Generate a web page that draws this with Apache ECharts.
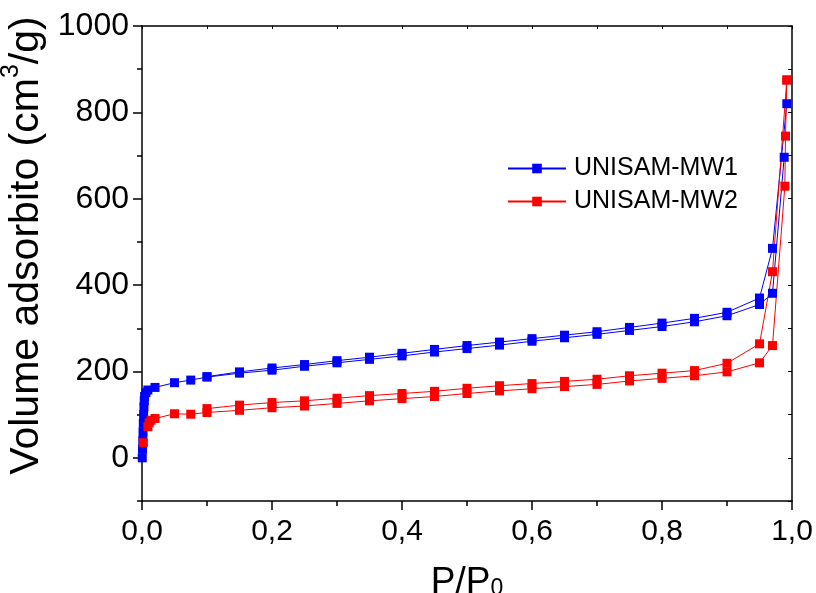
<!DOCTYPE html>
<html>
<head>
<meta charset="utf-8">
<script src="https://cdn.jsdelivr.net/npm/echarts@6/dist/echarts.min.js"></script>
<style>
  html, body { margin: 0; padding: 0; background: #fff; }
  #chart { width: 816px; height: 593px; }
</style>
</head>
<body>
<div id="chart"></div>
<script>
// Nitrogen isotherms: adsorption and desorption branches for two samples
const mw1AdsP = [0.0004, 0.0008, 0.0012, 0.0016, 0.002, 0.0025, 0.003, 0.0035, 0.004, 0.006, 0.009, 0.02, 0.05, 0.075, 0.1, 0.15, 0.2, 0.25, 0.3, 0.35, 0.4, 0.45, 0.5, 0.55, 0.6, 0.65, 0.7, 0.75, 0.8, 0.85, 0.9, 0.95, 0.97, 0.988];
const mw1AdsV = [0, 20, 40, 60, 80, 100, 118, 132, 142, 151, 157, 163, 174, 180, 187, 196, 203, 212, 220, 228, 236, 245, 253, 261, 270, 278, 286, 295, 304, 315, 329, 355, 381, 696];
const mw1DesP = [0.992, 0.97, 0.95, 0.9, 0.85, 0.8, 0.75, 0.7, 0.65, 0.6, 0.55, 0.5, 0.45, 0.4, 0.35, 0.3, 0.25, 0.2, 0.15, 0.1];
const mw1DesV = [820, 485, 370, 337, 323, 312, 302, 292, 284, 276, 268, 260, 251, 242, 233, 225, 216, 208, 199, 188];

const mw2AdsP = [0.002, 0.009, 0.011, 0.014, 0.02, 0.05, 0.075, 0.1, 0.15, 0.2, 0.25, 0.3, 0.35, 0.4, 0.45, 0.5, 0.55, 0.6, 0.65, 0.7, 0.75, 0.8, 0.85, 0.9, 0.95, 0.97, 0.989, 0.99, 0.992];
const mw2AdsV = [35, 72, 81, 87, 91, 102, 101, 105, 110, 116, 120, 126, 132, 137, 142, 149, 155, 160, 165, 170, 178, 184, 190, 199, 220, 260, 629, 745, 875];
const mw2DesP = [0.992, 0.97, 0.95, 0.9, 0.85, 0.8, 0.75, 0.7, 0.65, 0.6, 0.55, 0.5, 0.45, 0.4, 0.35, 0.3, 0.25, 0.2, 0.15, 0.1];
const mw2DesV = [875, 431, 264, 219, 202, 196, 190, 182, 177, 172, 167, 161, 154, 149, 144, 138, 132, 128, 122, 114];

const seriesNames = ['UNISAM-MW1', 'UNISAM-MW2'];
const xTicks = [0, 0.2, 0.4, 0.6, 0.8, 1.0];
const yTicks = [0, 200, 400, 600, 800, 1000];
const yMinorTicks = [-100, 100, 300, 500, 700, 900];

const FONT = '"Liberation Sans", Arial, sans-serif';

function pairs(xs, ys) { return xs.map((x, i) => [x, ys[i]]); }

function lineSeries(name, color, xs, ys) {
  return {
    name: name,
    type: 'line',
    data: pairs(xs, ys),
    symbol: 'rect',
    symbolSize: 9,
    showAllSymbol: true,
    clip: false,
    lineStyle: { color: color, width: 1 },
    itemStyle: { color: color },
    emphasis: { disabled: true }
  };
}

const chart = echarts.init(document.getElementById('chart'), null, { renderer: 'canvas' });

chart.setOption({
  animation: false,
  backgroundColor: '#ffffff',
  grid: { left: 142, right: 24, top: 26, bottom: 92, containLabel: false, outerBoundsMode: 'none' },
  legend: {
    data: seriesNames,
    orient: 'vertical',
    left: 502,
    top: 151,
    itemWidth: 58,
    itemHeight: 12,
    itemGap: 8,
    textStyle: { fontFamily: FONT, fontSize: 25, color: '#000', lineHeight: 25, padding: [0, 0, 0, 3] }
  },
  xAxis: [
    {
      type: 'value',
      position: 'bottom',
      min: 0, max: 1, interval: 0.2,
      axisLine: { show: true, onZero: false, lineStyle: { color: '#000', width: 1.5 } },
      axisTick: { show: true, length: 9, lineStyle: { color: '#000', width: 1.5 } },
      minorTick: { show: true, splitNumber: 2, length: 5, lineStyle: { color: '#000', width: 1.5 } },
      splitLine: { show: false },
      axisLabel: {
        margin: 16,
        fontFamily: FONT, fontSize: 30, color: '#000',
        customValues: xTicks,
        formatter: v => v.toFixed(1).replace('.', ',')
      },
      name: '{a|P/P}{s|0}',
      nameLocation: 'middle',
      nameGap: 60,
      nameTextStyle: {
        rich: {
          a: { fontFamily: FONT, fontSize: 37, color: '#000', lineHeight: 36, verticalAlign: 'top' },
          s: { fontFamily: FONT, fontSize: 23, color: '#000', lineHeight: 23, verticalAlign: 'bottom', padding: [25, 0, 0, 0] }
        }
      }
    },
    {
      type: 'value',
      position: 'top',
      min: 0, max: 1, interval: 0.1,
      axisLine: { show: true, onZero: false, lineStyle: { color: '#000', width: 1.5 } },
      axisTick: { show: true, inside: true, length: 3, lineStyle: { color: '#000', width: 1 } },
      axisLabel: { show: false },
      splitLine: { show: false }
    }
  ],
  yAxis: [
    {
      type: 'value',
      position: 'left',
      min: -100, max: 1000,
      axisLine: { show: true, onZero: false, lineStyle: { color: '#000', width: 1.5 } },
      axisTick: { show: true, length: 9, customValues: yTicks, lineStyle: { color: '#000', width: 1.5 } },
      splitLine: { show: false },
      axisLabel: {
        margin: 13,
        fontFamily: FONT, fontSize: 32, color: '#000',
        customValues: yTicks,
        formatter: v => String(v)
      },
      name: '{a|Volume adsorbito (cm}{u|3}{a|/g)}',
      nameLocation: 'middle',
      nameGap: 83,
      nameTextStyle: {
        padding: [0, 0, 0, 36],
        rich: {
          a: { fontFamily: FONT, fontSize: 41, color: '#000', lineHeight: 48, verticalAlign: 'bottom' },
          u: { fontFamily: FONT, fontSize: 25, color: '#000', lineHeight: 25, verticalAlign: 'top' }
        }
      }
    },
    {
      // minor ticks on the left spine, between the labelled values
      type: 'value',
      position: 'left',
      min: -100, max: 1000,
      axisLine: { show: false },
      axisTick: { show: true, length: 5, customValues: yMinorTicks, lineStyle: { color: '#000', width: 1.5 } },
      axisLabel: { show: false },
      splitLine: { show: false }
    },
    {
      type: 'value',
      position: 'right',
      min: -100, max: 1000, interval: 100,
      axisLine: { show: true, onZero: false, lineStyle: { color: '#000', width: 1.5 } },
      axisTick: { show: true, inside: true, length: 4, lineStyle: { color: '#000', width: 1 } },
      axisLabel: { show: false },
      splitLine: { show: false }
    }
  ],
  series: [
    lineSeries(seriesNames[0], '#0000ff', mw1AdsP, mw1AdsV),
    lineSeries(seriesNames[0], '#0000ff', mw1DesP, mw1DesV),
    lineSeries(seriesNames[1], '#ff0000', mw2AdsP, mw2AdsV),
    lineSeries(seriesNames[1], '#ff0000', mw2DesP, mw2DesV)
  ]
});
</script>
</body>
</html>
